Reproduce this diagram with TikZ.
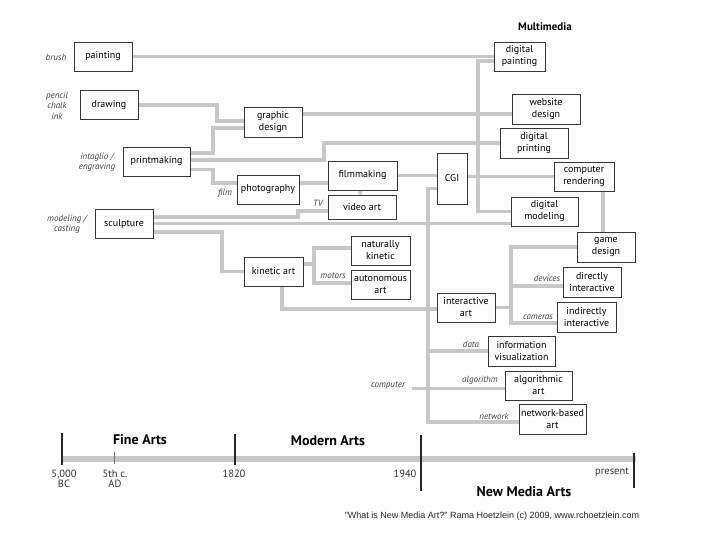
\documentclass[tikz,border=0pt]{standalone}
\usepackage{fontspec}
\setmainfont{PT Sans}
\newfontfamily\creditfont{Liberation Sans}
\usetikzlibrary{backgrounds}
\definecolor{linkgray}{RGB}{200,200,200}
\definecolor{boxline}{RGB}{55,55,55}

\begin{document}
\begin{tikzpicture}[
    x=1pt, y=-1pt,
    box/.style={draw=boxline, line width=0.9pt, fill=white, align=center,
        inner sep=1pt, font=\fontsize{10}{12}\selectfont,
        minimum width=58pt, minimum height=29pt},
    link/.style={draw=linkgray, line width=3.5pt},
    note/.style={font=\fontsize{9}{10.5}\selectfont\itshape, text=black!75,
        align=center, inner sep=0pt},
    era/.style={font=\fontsize{14}{16}\selectfont\bfseries},
    year/.style={font=\fontsize{10.5}{10}\selectfont, align=center,
        inner sep=0pt, text=black!80},
    tick/.style={draw=black!85, line width=1.3pt}
]
\useasboundingbox (0,0) rectangle (720,540);

% Fine arts
\node[box] (painting) at (103,56.5) {painting};
\node[box] (drawing) at (109,105) {drawing};
\node[box, minimum width=67pt] (pmaking) at (156.5,161.5) {printmaking};
\node[box] (sculpt) at (124,223.5) {sculpture};

% Modern arts
\node[box, minimum height=30pt] (gdesign) at (273,122) {graphic\\design};
\node[box, minimum width=62pt] (photo) at (268,189.5) {photography};
\node[box, minimum width=69pt] (film) at (362.5,175.5) {filmmaking};
\node[box, minimum width=68pt, minimum height=24pt] (video) at (362,207) {video art};
\node[box, minimum width=59pt] (kinetic) at (273.5,271.5) {kinetic art};
\node[box, minimum width=59pt] (natural) at (380.5,250.5) {naturally\\kinetic};
\node[box, minimum width=59pt] (auto) at (380.5,284.5) {autonomous\\art};

% New media arts
\node[box, minimum width=30pt, minimum height=51pt] (cgi) at (452,178.5) {CGI};
\node[box, minimum width=51pt] (dpaint) at (519.5,56.5) {digital\\painting};
\node[box, minimum width=68pt, minimum height=30pt] (web) at (546,109) {website\\design};
\node[box, minimum width=68pt, minimum height=30pt] (dprint) at (534,143) {digital\\printing};
\node[box, minimum width=60pt] (crender) at (584,176.5) {computer\\rendering};
\node[box, minimum width=67pt] (dmodel) at (544.5,211.5) {digital\\modeling};
\node[box, minimum height=30pt] (game) at (606,247) {game\\design};
\node[box, minimum height=30pt] (direct) at (592,282) {directly\\interactive};
\node[box, minimum width=59pt, minimum height=30pt] (indirect) at (586.5,317) {indirectly\\interactive};
\node[box] (iart) at (466,307.5) {interactive\\art};
\node[box, minimum width=67pt, minimum height=30pt] (infovis) at (521.5,351) {information\\visualization};
\node[box, minimum width=67pt] (algo) at (538.5,385.5) {algorithmic\\art};
\node[box, minimum width=67pt, minimum height=30pt] (netart) at (552.5,419) {network-based\\art};

\node[font=\fontsize{11}{12}\selectfont\bfseries] (mmedia) at (545,27) {Multimedia};

% Media labels
\node[note] (brushlab) at (56,57) {brush};
\node[note] (pencillab) at (57,105.5) {pencil\\chalk\\ink};
\node[note] (intaglab) at (97,162.5) {intaglio /\\engraving};
\node[note] (filmlab) at (225,193) {film};
\node[note] (modellab) at (67,224.5) {modeling /\\casting};
\node[note] (tvlab) at (318,203) {TV};
\node[note] (motorlab) at (333,276) {motors};
\node[note] (devlab) at (547,278) {devices};
\node[note] (camlab) at (538,317) {cameras};
\node[note] (datalab) at (471,344) {data};
\node[note] (algolab) at (480,380) {algorithm};
\node[note] (netlab) at (494,416) {network};
\node[note] (complab) at (388,386) {computer};
\coordinate (compstub) at (412,388.5);

\begin{pgfonlayer}{background}
% Painting and drawing
\draw[link] (painting.east) -- (dpaint.west);
\draw[link] (drawing.east) -- (217,105) |- ([yshift=1pt]gdesign.west);

% Printmaking
\draw[link] ([yshift=8.5pt]pmaking.east) -- (213,153) |- ([yshift=-6pt]gdesign.west);
\draw[link] ([yshift=1.5pt]pmaking.east) -- (324,160) |- (dprint.west);
\draw[link] ([yshift=-8pt]pmaking.east) -- (213,169.5) |- ([yshift=6.5pt]photo.west);

% Graphic design
\draw[link] ([yshift=8pt]gdesign.east) -- ([yshift=-5pt]web.west);

% Photography, film, video
\draw[link] ([yshift=6.5pt]photo.east) -- ([yshift=-7.5pt]film.west);
\draw[link] ([xshift=-2pt]film.south) -- ([xshift=-2pt]video.north);
\draw[link] (film.east) -- (film.east -| cgi.west);

% CGI and computer
\draw[link] (cgi.east |- crender.west) -- (crender.west);
\draw[link] ([yshift=-10pt]cgi.west) -| (428,422) -- ([yshift=-3pt]netart.west);
\draw[link] (428,351) -- (infovis.west);
\draw[link] (compstub) -- ([yshift=-3pt]algo.west);

% Digital
\draw[link] ([yshift=-4.5pt]dpaint.west) -- (478,61) |- (dmodel.west);
\draw[link] ([xshift=19pt]crender.south) -- ([xshift=19pt]crender.south |- game.north);

% Sculpture
\draw[link] ([yshift=6.5pt]sculpt.east) -- (298,217) |- ([yshift=-4pt]video.west);
\draw[link] (sculpt.east) -- (sculpt.east -| dmodel.west);
\draw[link] ([yshift=-8.5pt]sculpt.east) -- (222,232) |- (kinetic.west);

% Kinetic art
\draw[link] ([yshift=7.5pt]kinetic.east) -- (314,264);
\draw[link] ([yshift=2.5pt]natural.west) -| (314,283) -- ([yshift=1.5pt]auto.west);
\draw[link] ([xshift=8.5pt]kinetic.south) |- ([yshift=-1.5pt]iart.west);

% Interactive art
\draw[link] (iart.east) -- (511,307.5);
\draw[link] (game.west) -| (511,323) -- ([yshift=-6pt]indirect.west);
\draw[link] (511,286) -- ([yshift=-4pt]direct.west);
\end{pgfonlayer}

% Timeline
\draw[draw=linkgray, line width=5.5pt] (62,459) -- (636,459);
\draw[tick] (62,433) -- (62,465);
\draw[draw=black!55, line width=0.6pt] (114,452) -- (114,464);
\draw[tick] (235,434) -- (235,465);
\draw[tick] (421,435) -- (421,491);
\draw[tick] (634,453) -- (634,488);

\node[era] (finearts) at (140,440) {Fine Arts};
\node[era] (modarts) at (328,441) {Modern Arts};
\node[era] (newarts) at (524,492) {New Media Arts};

\node[year] (bc) at (64,479) {5,000\\BC};
\node[year] (ad) at (115,479) {5th c.\\AD};
\node[year] (y1820) at (234,474) {1820};
\node[year] (y1940) at (405,474) {1940};
\node[year] (now) at (612,472) {present};

\node[font=\creditfont\fontsize{9}{10}\selectfont, text=black!85] (credit) at (492,516)
    {"What is New Media Art?" Rama Hoetzlein (c) 2009, www.rchoetzlein.com};

\end{tikzpicture}
\end{document}
